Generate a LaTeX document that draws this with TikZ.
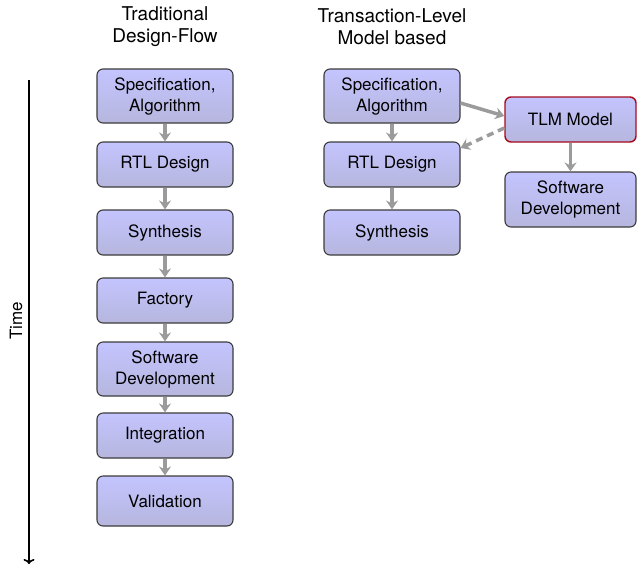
\documentclass[tikz,border=0pt]{standalone}
\usepackage{fontspec}
\setmainfont{TeX Gyre Heros}
\usetikzlibrary{arrows.meta,positioning}
\definecolor{boxtop}{RGB}{196,196,255}
\definecolor{boxbot}{RGB}{182,182,222}
\definecolor{boxline}{RGB}{60,60,60}
\definecolor{tlmred}{RGB}{165,10,30}
\definecolor{arrgray}{RGB}{155,155,155}
\tikzset{
  flowbox/.style={rectangle, rounded corners=6pt, draw=boxline, line width=1.1pt,
    top color=boxtop, bottom color=boxbot, minimum width=136pt, inner sep=0pt,
    align=center, font=\fontsize{17}{21}\selectfont},
  tlmbox/.style={flowbox, draw=tlmred, line width=1.4pt},
  flow/.style={draw=arrgray, line width=3.5pt, -{Stealth[length=9pt,width=12pt,inset=3pt]}},
  dflow/.style={flow, dash pattern=on 7pt off 5pt},
  titletext/.style={align=center, font=\fontsize{19}{22}\selectfont},
}
\begin{document}
\begin{tikzpicture}[x=1pt,y=-1pt]
\useasboundingbox (0,0) rectangle (637,566);
% titles
\node[titletext] (t1) at (165,27) {Traditional\\Design-Flow};
\node[titletext] (t2) at (392,27) {Transaction-Level\\Model based};
% left column
\node[flowbox, minimum height=54pt] (a1) at (165,96) {Specification,\\Algorithm};
\node[flowbox, minimum height=45pt] (a2) at (165,164.5) {RTL Design};
\node[flowbox, minimum height=45pt] (a3) at (165,232.5) {Synthesis};
\node[flowbox, minimum height=45pt] (a4) at (165,300.5) {Factory};
\node[flowbox, minimum height=54pt] (a5) at (165,369) {Software\\Development};
\node[flowbox, minimum height=45pt] (a6) at (165,435.5) {Integration};
\node[flowbox, minimum height=50pt] (a7) at (165,501) {Validation};
\draw[flow] (a1) -- (a2);
\draw[flow] (a2) -- (a3);
\draw[flow] (a3) -- (a4);
\draw[flow] (a4) -- (a5);
\draw[flow] (a5) -- (a6);
\draw[flow] (a6) -- (a7);
% middle column
\node[flowbox, minimum height=54pt] (b1) at (392,96) {Specification,\\Algorithm};
\node[flowbox, minimum height=45pt] (b2) at (392,164.5) {RTL Design};
\node[flowbox, minimum height=45pt] (b3) at (392,232.5) {Synthesis};
\draw[flow] (b1) -- (b2);
\draw[flow] (b2) -- (b3);
% right column
\node[tlmbox, minimum width=131pt, minimum height=45pt] (c1) at (570.5,119.5) {TLM Model};
\node[flowbox, minimum width=131pt, minimum height=55pt] (c2) at (570.5,199.5) {Software\\Development};
\draw[flow] (c1) -- (c2);
\draw[flow] (b1.east |- 0,103) -- (c1.west |- 0,116);
\draw[dflow] (c1.west |- 0,128) -- (b2.east |- 0,148);
% time axis
\coordinate (ts) at (29,80);
\coordinate (te) at (29,564);
\draw[line width=1.6pt, -{To[length=5pt,width=11pt]}] (ts) -- (te);
\node[rotate=90, font=\fontsize{17}{20}\selectfont] (time) at (16,321) {Time};
\end{tikzpicture}
\end{document}
